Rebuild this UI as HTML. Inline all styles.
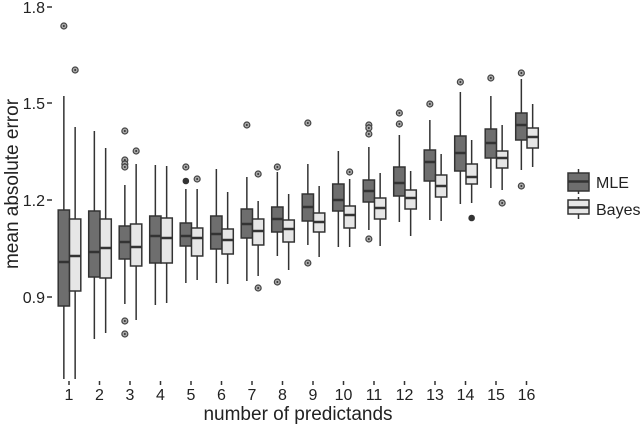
<!DOCTYPE html>
<html><head><meta charset="utf-8"><style>
html,body{margin:0;padding:0;background:#fff;width:640px;height:425px;overflow:hidden}
svg{display:block}
text{font-family:"Liberation Sans",sans-serif;fill:#222}
</style></head><body>
<svg id="s" width="640" height="425" xmlns="http://www.w3.org/2000/svg">
<g font-size="16" text-anchor="end">
<text x="45" y="13">1.8</text>
<text x="45" y="109">1.5</text>
<text x="45" y="206">1.2</text>
<text x="45" y="303">0.9</text>
</g>
<g stroke="#333" stroke-width="1.5">
<line x1="47" y1="7" x2="52" y2="7"/><line x1="47" y1="103" x2="52" y2="103"/>
<line x1="47" y1="200" x2="52" y2="200"/><line x1="47" y1="297" x2="52" y2="297"/>
</g>
<g font-size="16" text-anchor="middle" id="xl">
<text x="69" y="400">1</text><text x="99.5" y="400">2</text><text x="130" y="400">3</text><text x="160.5" y="400">4</text>
<text x="191" y="400">5</text><text x="221.5" y="400">6</text><text x="252" y="400">7</text><text x="282.5" y="400">8</text>
<text x="313" y="400">9</text><text x="343.5" y="400">10</text><text x="374" y="400">11</text><text x="404.5" y="400">12</text>
<text x="435" y="400">13</text><text x="465.5" y="400">14</text><text x="496" y="400">15</text><text x="526.5" y="400">16</text>
</g>
<text x="298" y="420" font-size="19" text-anchor="middle">number of predictands</text>
<text transform="translate(18,184) rotate(-90)" font-size="19" text-anchor="middle">mean absolute error</text>
<g id="plot"></g>
<g stroke="#333" stroke-width="1.5">
<line x1="578.5" y1="169" x2="578.5" y2="194"/><rect x="568" y="173" width="21" height="18" fill="#6e6e6e"/><line x1="568" y1="181.5" x2="589" y2="181.5" stroke-width="2.5"/>
<line x1="578.5" y1="197" x2="578.5" y2="219"/><rect x="568" y="200" width="21" height="14" fill="#e6e6e6"/><line x1="568" y1="207.5" x2="589" y2="207.5" stroke-width="2.5"/>
</g>
<text x="596" y="188" font-size="16">MLE</text>
<text x="596" y="215" font-size="16">Bayes</text>
</svg>
<script>
var D=[
[[96,210,262,306,379,[26]],[127,219,256,291,379,[70]]],
[[131,211,252,277,339,[]],[148,219,248,278,333,[]]],
[[185,226,242,259,304,[131,160,164,167,321,334]],[164,224,247,266,320,[151]]],
[[165,216,236,263,305,[]],[166,218,238,263,303,[]]],
[[189,223,236,246,283,[167,-181]],[189,228,238,256,280,[179]]],
[[169,216,234,249,283,[]],[192,229,240,254,284,[]]],
[[177,209,224,238,281,[125]],[201,219,231,245,276,[174,288]]],
[[172,207,219,232,256,[167,282]],[194,220,229,242,270,[]]],
[[164,194,207,221,245,[123,263]],[186,213,222,232,257,[]]],
[[151,184,200,211,247,[]],[179,206,215,228,247,[172]]],
[[147,180,191,202,230,[125,128,134,239]],[173,198,208,219,246,[]]],
[[135,167,183,196,222,[113,124]],[171,190,198,209,236,[]]],
[[120,150,162,181,220,[104]],[154,175,186,197,221,[]]],
[[92,136,153,171,204,[82]],[140,164,177,184,203,[-218]]],
[[96,129,143,158,188,[78]],[125,151,158,168,190,[203]]],
[[79,113,125,140,170,[73,186]],[104,128,137,148,167,[]]]];
var h='';
D.forEach(function(g,i){
 var c=69.5+i*30.5;
 h+='<line x1="'+(c-0.5)+'" y1="381" x2="'+(c-0.5)+'" y2="385" stroke="#333" stroke-width="1.5"/>';
 g.forEach(function(b,j){
  var x0=j?c:c-11.3,cx=x0+5.65,f=j?'#e6e6e6':'#6e6e6e';
  h+='<line x1="'+cx+'" y1="'+b[0]+'" x2="'+cx+'" y2="'+b[4]+'" stroke="#333" stroke-width="1.5"/>';
  h+='<rect x="'+x0+'" y="'+b[1]+'" width="11.3" height="'+(b[3]-b[1])+'" fill="'+f+'" stroke="#333" stroke-width="1.5"/>';
  h+='<line x1="'+x0+'" y1="'+b[2]+'" x2="'+(x0+11.3)+'" y2="'+b[2]+'" stroke="#333" stroke-width="2.5"/>';
  b[5].forEach(function(o){
   if(o<0) h+='<circle cx="'+cx+'" cy="'+(-o)+'" r="3.3" fill="#333"/>';
   else h+='<circle cx="'+cx+'" cy="'+o+'" r="3" fill="#aaa" stroke="#444" stroke-width="1.2"/><circle cx="'+cx+'" cy="'+o+'" r="1" fill="#333"/>';
  });
 });
});
document.getElementById('plot').innerHTML=h;
</script>
</body></html>
